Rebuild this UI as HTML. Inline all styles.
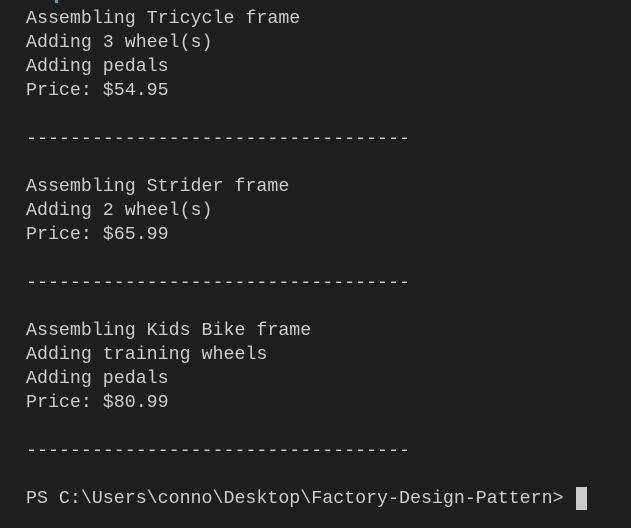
<!DOCTYPE html>
<html><head><style>
html,body{margin:0;padding:0;background:#1e1e1e;width:631px;height:528px;overflow:hidden}
pre{position:absolute;left:26px;top:7px;margin:0;font-family:"Liberation Mono",monospace;font-size:18.3px;line-height:24px;color:#cccccc}
.cur{position:absolute;left:576px;top:487px;width:11px;height:23px;background:#cccccc}
.blue{position:absolute;left:55px;top:0;width:3px;height:3px;background:#3aa8d8}
</style></head><body>
<div class="blue"></div>
<pre>Assembling Tricycle frame
Adding 3 wheel(s)
Adding pedals
Price: $54.95

-----------------------------------

Assembling Strider frame
Adding 2 wheel(s)
Price: $65.99

-----------------------------------

Assembling Kids Bike frame
Adding training wheels
Adding pedals
Price: $80.99

-----------------------------------

PS C:\Users\conno\Desktop\Factory-Design-Pattern&gt;</pre>
<div class="cur"></div>
</body></html>
